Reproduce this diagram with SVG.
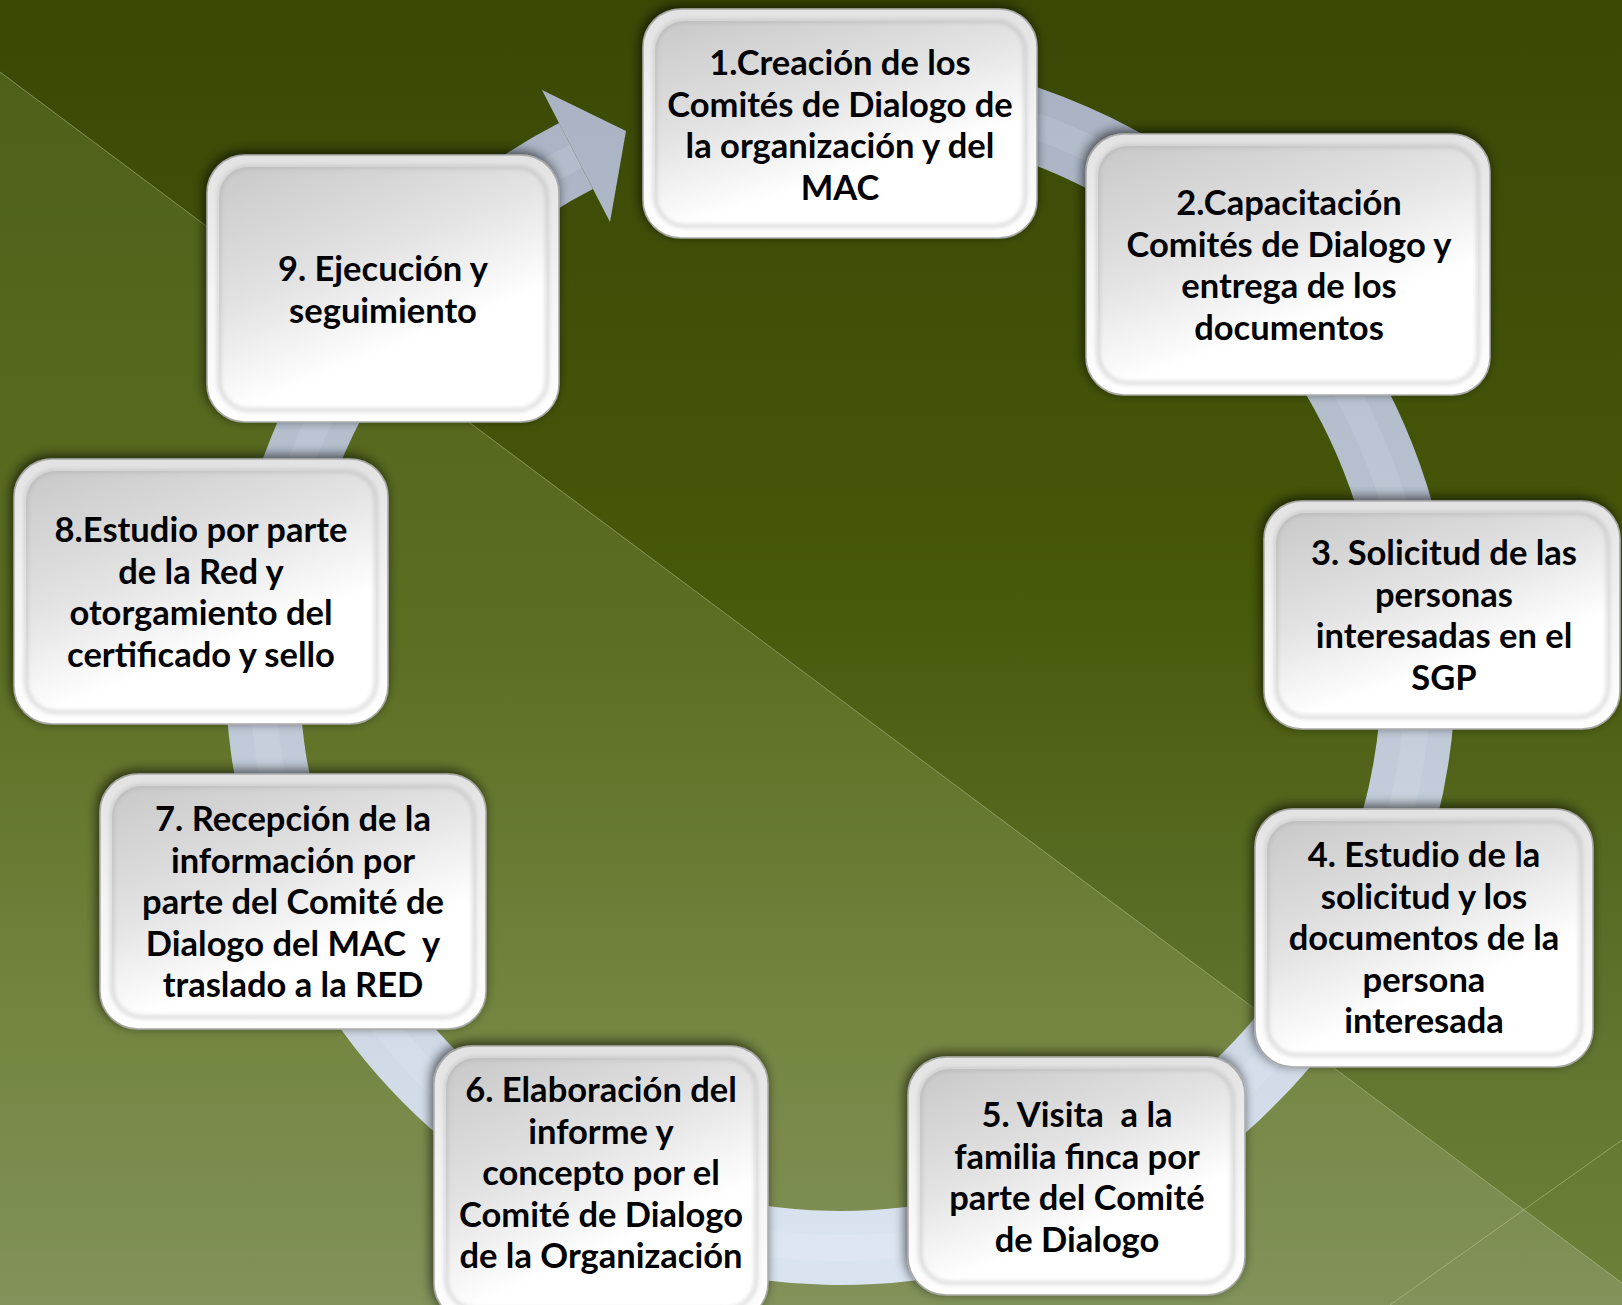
<svg xmlns="http://www.w3.org/2000/svg" width="1622" height="1305" viewBox="0 0 1622 1305">
<defs>
<linearGradient id="bgTop" x1="0" y1="0" x2="0" y2="1305" gradientUnits="userSpaceOnUse">
<stop offset="0" stop-color="#3a4806"/>
<stop offset="0.45" stop-color="#465809"/>
<stop offset="0.8" stop-color="#617530"/>
<stop offset="1" stop-color="#6e8139"/>
</linearGradient>
<linearGradient id="bgLow" x1="0" y1="72" x2="0" y2="1305" gradientUnits="userSpaceOnUse">
<stop offset="0" stop-color="#4f6119"/>
<stop offset="0.45" stop-color="#5a6d21"/>
<stop offset="0.75" stop-color="#72843e"/>
<stop offset="1" stop-color="#82925a"/>
</linearGradient>
<linearGradient id="ring" x1="0" y1="90" x2="0" y2="1250" gradientUnits="userSpaceOnUse">
<stop offset="0" stop-color="#a9b3c3"/>
<stop offset="0.5" stop-color="#bcc6d4"/>
<stop offset="1" stop-color="#dae4f1"/>
</linearGradient>
<linearGradient id="rim" x1="0" y1="0" x2="0" y2="1">
<stop offset="0" stop-color="#e2e2e2"/>
<stop offset="0.5" stop-color="#f4f4f4"/>
<stop offset="1" stop-color="#ffffff"/>
</linearGradient>
<linearGradient id="face" x1="0" y1="0" x2="0.55" y2="1">
<stop offset="0" stop-color="#c8c8c8"/>
<stop offset="0.45" stop-color="#e2e2e2"/>
<stop offset="0.8" stop-color="#ffffff"/>
<stop offset="1" stop-color="#ffffff"/>
</linearGradient>
<filter id="shadow" x="-20%" y="-20%" width="140%" height="140%">
<feGaussianBlur in="SourceAlpha" stdDeviation="6"/>
<feOffset dx="-2" dy="-3" result="b"/>
<feComponentTransfer><feFuncA type="linear" slope="0.65"/></feComponentTransfer>
<feMerge><feMergeNode/><feMergeNode in="SourceGraphic"/></feMerge>
</filter>
<filter id="soft" x="-10%" y="-10%" width="120%" height="120%">
<feGaussianBlur stdDeviation="2"/>
</filter>
</defs>
<style>
.outer{fill:url(#rim);stroke:#a9a9a9;stroke-width:1.5;filter:url(#shadow)}
.inner{fill:url(#face)}
.bev{fill:none;stroke:#9a9a9a;stroke-width:3;opacity:0.45;filter:url(#soft)}
.t{font-family:Lato,"Liberation Sans",sans-serif;font-weight:bold;font-size:34.5px;fill:#000;text-anchor:middle}
.bgline{stroke:#c9d3a8;stroke-width:1;opacity:0.45;fill:none}
</style>

<!-- background -->
<rect x="0" y="0" width="1622" height="1305" fill="url(#bgTop)"/>
<polygon points="0,72 1622,1283 1622,1305 0,1305" fill="url(#bgLow)"/>
<line class="bgline" x1="0" y1="72" x2="1622" y2="1283"/>
<line class="bgline" x1="1390" y1="1305" x2="1622" y2="1140"/>

<!-- connectors -->
<g id="connectors">
<path d="M 840 92 A 578 578 0 1 1 576 156" fill="none" stroke="url(#ring)" stroke-width="74"/>
<path d="M 840 92 A 578 578 0 1 1 576 156" fill="none" stroke="#ffffff" stroke-width="26" opacity="0.1"/>
<polygon points="542,90 626,131 610,222" fill="url(#ring)"/>
</g>

<!-- nodes -->
<g id="node1">
<rect class="outer" x="643" y="9" width="394" height="229" rx="38"/>
<rect class="inner" x="655" y="21" width="370" height="205" rx="30"/>
<rect class="bev" x="655" y="21" width="370" height="205" rx="30"/>
<text class="t"><tspan x="840" y="75">1.Creación de los</tspan><tspan x="840" y="116.5">Comités de Dialogo de</tspan><tspan x="840" y="158">la organización y del</tspan><tspan x="840" y="199.5">MAC</tspan></text>
</g>
<g id="node2">
<rect class="outer" x="1086" y="134" width="404" height="261" rx="38"/>
<rect class="inner" x="1098" y="146" width="380" height="237" rx="30"/>
<rect class="bev" x="1098" y="146" width="380" height="237" rx="30"/>
<text class="t"><tspan x="1289" y="215">2.Capacitación</tspan><tspan x="1289" y="256.5">Comités de Dialogo y</tspan><tspan x="1289" y="298">entrega de los</tspan><tspan x="1289" y="339.5">documentos</tspan></text>
</g>
<g id="node3">
<rect class="outer" x="1264" y="501" width="356" height="228" rx="38"/>
<rect class="inner" x="1276" y="513" width="332" height="204" rx="30"/>
<rect class="bev" x="1276" y="513" width="332" height="204" rx="30"/>
<text class="t"><tspan x="1444" y="565">3. Solicitud de las</tspan><tspan x="1444" y="606.5">personas</tspan><tspan x="1444" y="648">interesadas en el</tspan><tspan x="1444" y="689.5">SGP</tspan></text>
</g>
<g id="node4">
<rect class="outer" x="1255" y="809" width="338" height="258" rx="38"/>
<rect class="inner" x="1267" y="821" width="314" height="234" rx="30"/>
<rect class="bev" x="1267" y="821" width="314" height="234" rx="30"/>
<text class="t"><tspan x="1424" y="867">4. Estudio de la</tspan><tspan x="1424" y="908.5">solicitud y los</tspan><tspan x="1424" y="950">documentos de la</tspan><tspan x="1424" y="991.5">persona</tspan><tspan x="1424" y="1033">interesada</tspan></text>
</g>
<g id="node5">
<rect class="outer" x="908" y="1057" width="337" height="238" rx="38"/>
<rect class="inner" x="920" y="1069" width="313" height="214" rx="30"/>
<rect class="bev" x="920" y="1069" width="313" height="214" rx="30"/>
<text class="t" xml:space="preserve"><tspan x="1077" y="1127">5. Visita  a la</tspan><tspan x="1077" y="1168.5">familia finca por</tspan><tspan x="1077" y="1210">parte del Comité</tspan><tspan x="1077" y="1251.5">de Dialogo</tspan></text>
</g>
<g id="node6">
<rect class="outer" x="434" y="1046" width="334" height="275" rx="38"/>
<rect class="inner" x="446" y="1058" width="310" height="251" rx="30"/>
<rect class="bev" x="446" y="1058" width="310" height="251" rx="30"/>
<text class="t"><tspan x="601" y="1102">6. Elaboración del</tspan><tspan x="601" y="1143.5">informe y</tspan><tspan x="601" y="1185">concepto por el</tspan><tspan x="601" y="1226.5">Comité de Dialogo</tspan><tspan x="601" y="1268">de la Organización</tspan></text>
</g>
<g id="node7">
<rect class="outer" x="100" y="774" width="386" height="255" rx="38"/>
<rect class="inner" x="112" y="786" width="362" height="231" rx="30"/>
<rect class="bev" x="112" y="786" width="362" height="231" rx="30"/>
<text class="t" xml:space="preserve"><tspan x="293" y="831">7. Recepción de la</tspan><tspan x="293" y="872.5">información por</tspan><tspan x="293" y="914">parte del Comité de</tspan><tspan x="293" y="955.5">Dialogo del MAC  y</tspan><tspan x="293" y="997">traslado a la RED</tspan></text>
</g>
<g id="node8">
<rect class="outer" x="14" y="459" width="374" height="265" rx="38"/>
<rect class="inner" x="26" y="471" width="350" height="241" rx="30"/>
<rect class="bev" x="26" y="471" width="350" height="241" rx="30"/>
<text class="t"><tspan x="201" y="542">8.Estudio por parte</tspan><tspan x="201" y="583.5">de la Red y</tspan><tspan x="201" y="625">otorgamiento del</tspan><tspan x="201" y="666.5">certificado y sello</tspan></text>
</g>
<g id="node9">
<rect class="outer" x="207" y="155" width="352" height="267" rx="38"/>
<rect class="inner" x="219" y="167" width="328" height="243" rx="30"/>
<rect class="bev" x="219" y="167" width="328" height="243" rx="30"/>
<text class="t"><tspan x="383" y="281">9. Ejecución y</tspan><tspan x="383" y="322.5">seguimiento</tspan></text>
</g>
</svg>
